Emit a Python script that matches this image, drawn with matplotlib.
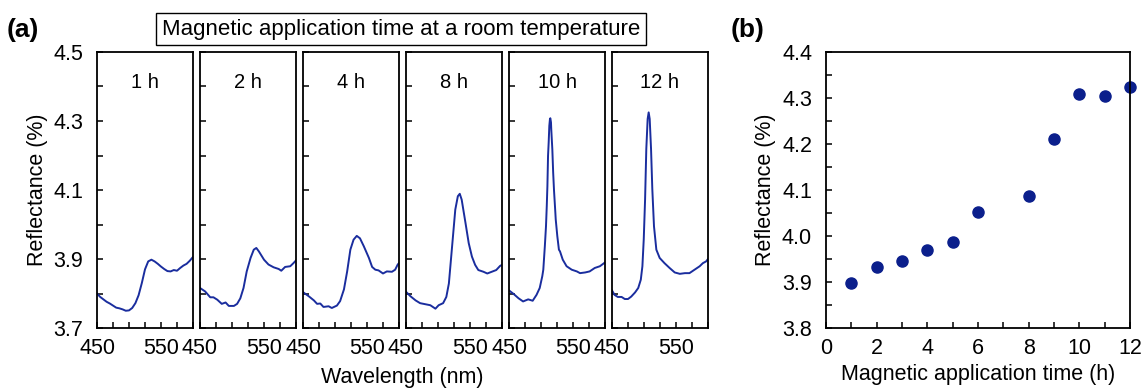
import numpy as np
import matplotlib
matplotlib.use("Agg")
from matplotlib import pyplot as plt
from matplotlib.ticker import MultipleLocator, FixedLocator, FormatStrFormatter

plt.rcParams['font.family'] = ['Liberation Sans', 'DejaVu Sans']

# spectra, per panel (wavelength nm, reflectance %)
wl_1h = [450, 455, 460, 465, 470, 475, 480, 485, 490, 495, 500, 505, 510, 515, 520, 525, 530, 535,
         540, 545, 550, 555, 560, 565, 570, 575, 580, 585, 590, 595, 600]
r_1h = [3.800, 3.790, 3.783, 3.776, 3.771, 3.765, 3.759, 3.757, 3.754, 3.750, 3.751, 3.758, 3.772,
        3.795, 3.830, 3.870, 3.893, 3.898, 3.893, 3.886, 3.878, 3.871, 3.865, 3.864, 3.868, 3.866,
        3.874, 3.881, 3.886, 3.895, 3.906]

wl_2h = [450, 458, 466, 471, 477, 484, 490, 495, 503, 508, 513, 518, 523, 529, 534, 538, 542, 550,
         557, 565, 573, 577, 583, 591, 596, 600]
r_2h = [3.816, 3.806, 3.789, 3.789, 3.782, 3.770, 3.774, 3.764, 3.764, 3.770, 3.786, 3.816, 3.864,
        3.903, 3.927, 3.932, 3.922, 3.898, 3.884, 3.876, 3.871, 3.866, 3.877, 3.879, 3.888, 3.896]

wl_4h = [450, 459, 467, 472, 477, 482, 490, 495, 503, 508, 514, 519, 524, 529, 534, 539, 545, 553,
         558, 563, 568, 575, 581, 589, 594, 598, 600]
r_4h = [3.804, 3.792, 3.780, 3.770, 3.771, 3.761, 3.763, 3.758, 3.765, 3.778, 3.812, 3.864, 3.927,
        3.956, 3.967, 3.960, 3.937, 3.903, 3.877, 3.869, 3.867, 3.858, 3.864, 3.863, 3.869, 3.884,
        3.888]

wl_8h = [450, 457, 465, 472, 480, 488, 496, 501, 508, 513, 517, 522, 527, 531, 534, 537, 543, 548,
         553, 558, 563, 571, 577, 584, 591, 597, 600]
r_8h = [3.805, 3.792, 3.780, 3.772, 3.769, 3.766, 3.756, 3.766, 3.772, 3.790, 3.829, 3.936, 4.043,
        4.082, 4.089, 4.072, 4.004, 3.946, 3.907, 3.883, 3.868, 3.863, 3.858, 3.863, 3.868, 3.880,
        3.883]

wl_10h = [450, 457, 465, 472, 480, 487, 493, 498, 502, 503.6, 506, 507.8, 509, 510, 511, 512, 513,
          514, 514.6, 515.6, 516, 517.7, 519, 520.3, 522.4, 523, 525.5, 528, 529.7, 534, 540, 548,
          556, 561, 569, 576, 584, 592, 600]
r_10h = [3.809, 3.799, 3.786, 3.777, 3.783, 3.779, 3.796, 3.816, 3.850, 3.869, 3.937, 3.995, 4.053,
         4.111, 4.199, 4.238, 4.286, 4.306, 4.308, 4.296, 4.277, 4.218, 4.151, 4.100, 4.035, 4.015,
         3.966, 3.927, 3.922, 3.898, 3.879, 3.869, 3.864, 3.859, 3.861, 3.864, 3.874, 3.879, 3.890]

wl_12h = [450, 454, 459, 465, 470, 475, 480, 486, 491, 495, 497.5, 499.6, 501.7, 503.6, 505.7, 507.3,
          508.9, 511, 513, 515.6, 519.3, 524.5, 532, 540, 548, 556, 564, 571, 579, 587, 592, 597, 600]
r_12h = [3.809, 3.796, 3.790, 3.790, 3.784, 3.784, 3.791, 3.803, 3.816, 3.840, 3.879, 3.957, 4.073,
         4.219, 4.306, 4.325, 4.306, 4.219, 4.102, 3.995, 3.927, 3.903, 3.888, 3.874, 3.861, 3.857,
         3.859, 3.859, 3.869, 3.879, 3.888, 3.893, 3.900]

panel_labels = ['1 h', '2 h', '4 h', '8 h', '10 h', '12 h']
a_yticks = [3.7, 3.9, 4.1, 4.3, 4.5]
a_xticks = [450, 550]

# panel (b): peak reflectance vs. time
time_h = [1, 2, 3, 4, 5, 6, 8, 9, 10, 11, 12]
peak_r = [3.898, 3.932, 3.946, 3.969, 3.988, 4.053, 4.088, 4.211, 4.308, 4.305, 4.324]

line_col = '#1a2d9e'
dot_col = '#0b1f8c'
fs = 15.5

W, H = 1147, 392
fig = plt.figure(figsize=(W / 100, H / 100), dpi=100)

spectra = [(wl_1h, r_1h), (wl_2h, r_2h), (wl_4h, r_4h), (wl_8h, r_8h), (wl_10h, r_10h), (wl_12h, r_12h)]
lefts = [97, 200, 303, 406, 509, 612]
top, bottom = 52, 328

axes = []
for i, (wl, r) in enumerate(spectra):
    ax = fig.add_axes([lefts[i] / W, 1 - bottom / H, 96 / W, (bottom - top) / H])
    ax.plot(wl, r, color=line_col, lw=1.4)
    ax.set_xlim(450, 600)
    ax.set_ylim(3.7, 4.5)
    ax.xaxis.set_major_locator(FixedLocator(a_xticks))
    ax.xaxis.set_minor_locator(MultipleLocator(25))
    ax.yaxis.set_major_locator(FixedLocator(a_yticks))
    ax.yaxis.set_minor_locator(MultipleLocator(0.1))
    ax.yaxis.set_major_formatter(FormatStrFormatter('%.1f'))
    ax.tick_params(which='both', direction='in', top=False, right=False, length=4, width=1.1,
                   labelsize=fs)
    ax.tick_params(axis='x', pad=7)
    ax.tick_params(axis='y', pad=10)
    if i > 0:
        ax.tick_params(axis='y', labelleft=False)
    for s in ax.spines.values():
        s.set_linewidth(1.3)
    ax.text(0.5, 0.89, panel_labels[i], transform=ax.transAxes, ha='center', va='center', fontsize=14.5)
    axes.append(ax)

axes[0].set_ylabel('Reflectance (%)', fontsize=fs, labelpad=4)
fig.text(402 / W, 1 - 377 / H, 'Wavelength (nm)', ha='center', va='center', fontsize=fs)

fig.text(401 / W, 1 - 29 / H, 'Magnetic application time at a room temperature', ha='center',
         va='center', fontsize=16,
         bbox=dict(boxstyle='square,pad=0.25', fc='white', ec='black', lw=1.0))

fig.text(7 / W, 1 - 30 / H, '(a)', ha='left', va='center', fontsize=19, fontweight='bold')
fig.text(731 / W, 1 - 30 / H, '(b)', ha='left', va='center', fontsize=19, fontweight='bold')

# panel (b)
bx = fig.add_axes([826 / W, 1 - bottom / H, 304 / W, (bottom - top) / H])
bx.plot(time_h, peak_r, 'o', color=dot_col, ms=8, clip_on=False)
bx.set_xlim(0, 12)
bx.set_ylim(3.8, 4.4)
bx.xaxis.set_major_locator(MultipleLocator(2))
bx.xaxis.set_minor_locator(MultipleLocator(1))
bx.yaxis.set_major_locator(MultipleLocator(0.1))
bx.yaxis.set_minor_locator(MultipleLocator(0.05))
bx.yaxis.set_major_formatter(FormatStrFormatter('%.1f'))
bx.tick_params(which='both', direction='in', top=False, right=False, length=4, width=1.1,
               labelsize=fs)
bx.tick_params(axis='x', pad=7)
bx.tick_params(axis='y', pad=10)
for s in bx.spines.values():
    s.set_linewidth(1.3)
bx.set_ylabel('Reflectance (%)', fontsize=fs, labelpad=4)
bx.set_xlabel('Magnetic application time (h)', fontsize=fs, labelpad=4)

fig.savefig('out.png', dpi=100)
